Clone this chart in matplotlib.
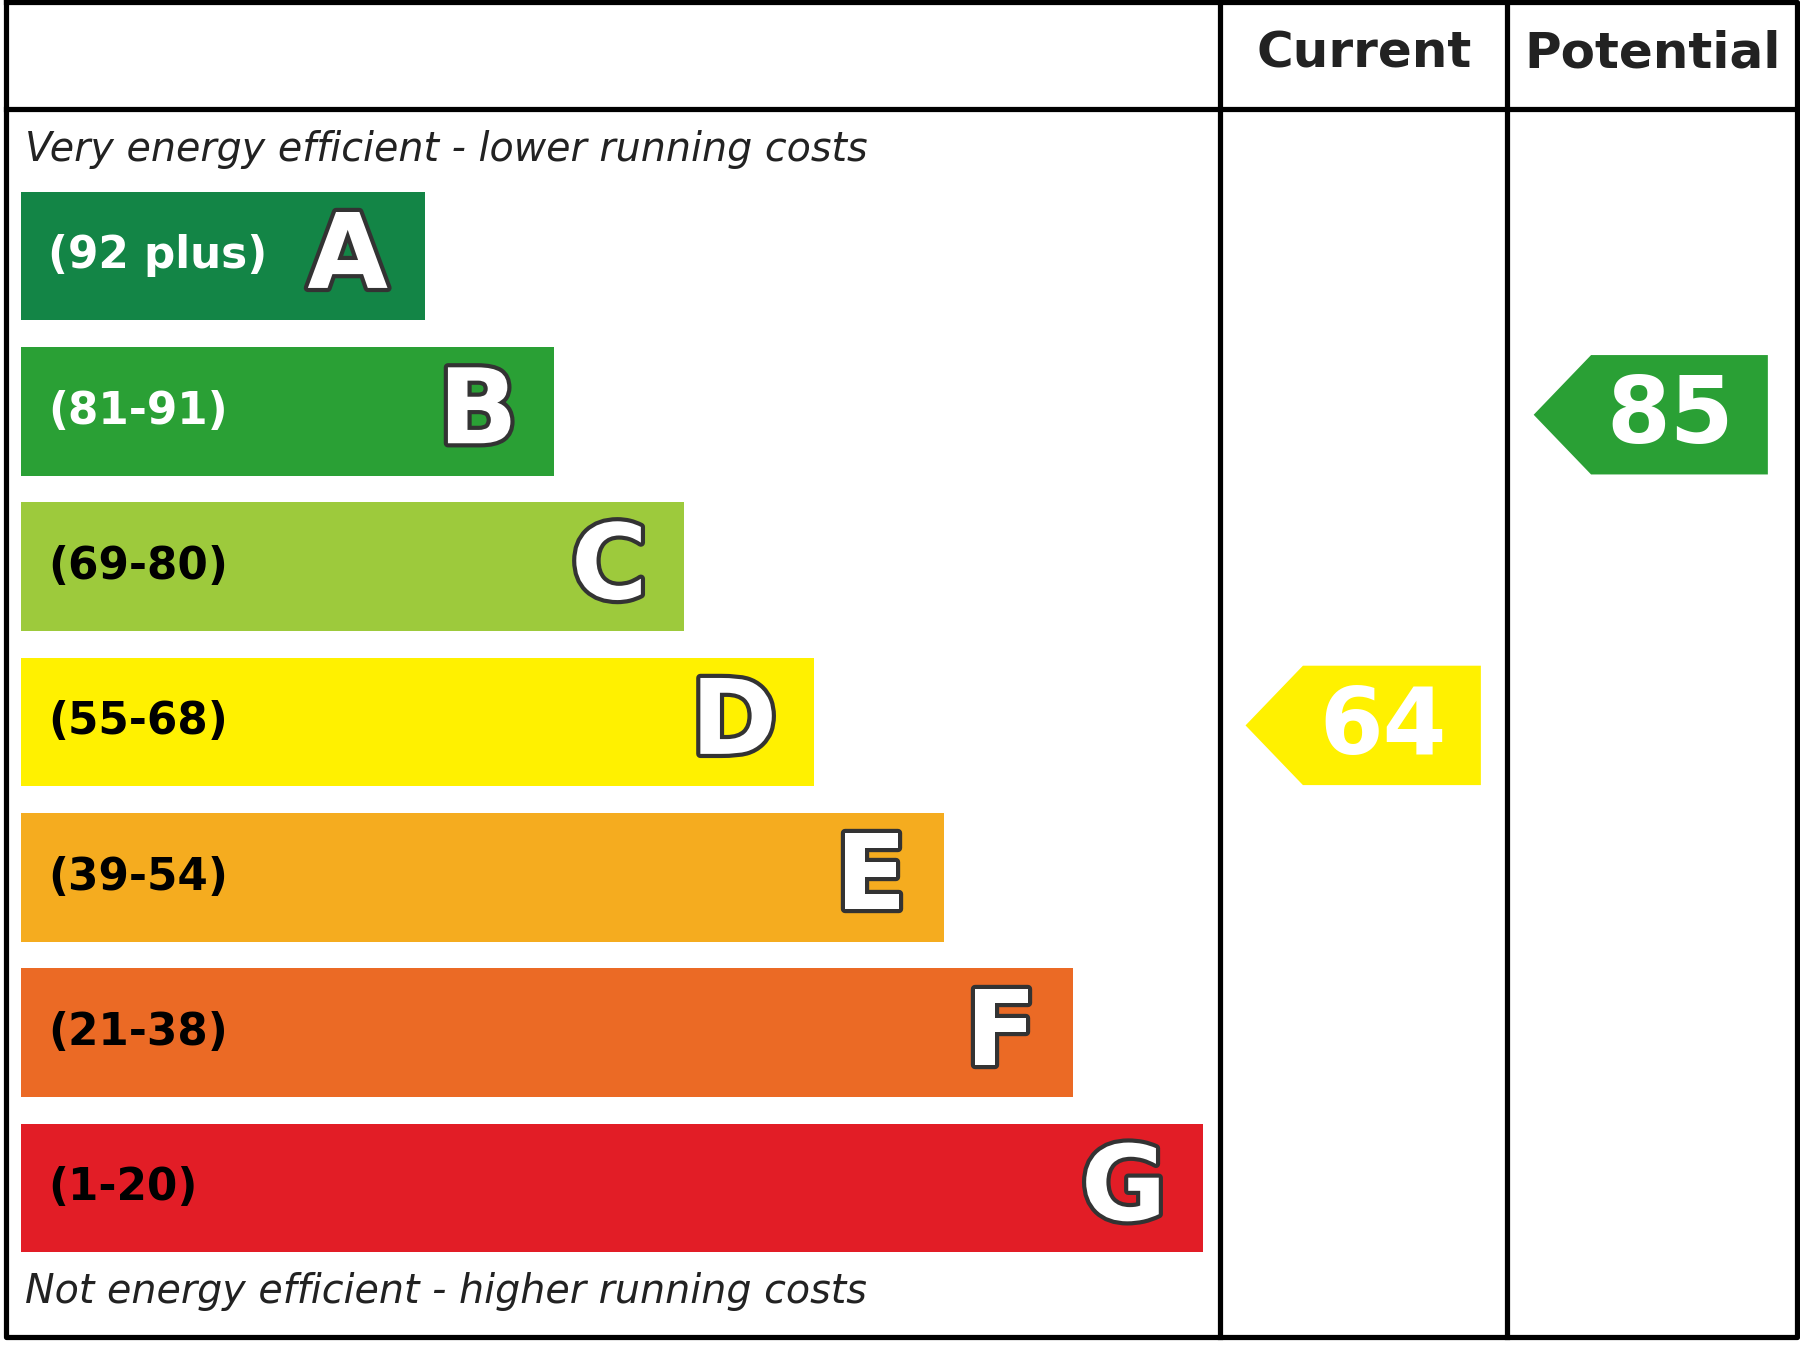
import matplotlib
matplotlib.use("Agg")
import matplotlib.pyplot as plt
import matplotlib.patheffects as pe
from matplotlib.patches import Rectangle, Polygon

bands = ["A", "B", "C", "D", "E", "F", "G"]
ranges = ["(92 plus)", "(81-91)", "(69-80)", "(55-68)", "(39-54)", "(21-38)", "(1-20)"]
lows = [92, 81, 69, 55, 39, 21, 1]
colors = ["#138546", "#2aa035", "#9dca3c", "#fff100", "#f5ac1f", "#eb6a25", "#e21d26"]
range_text = ["white", "white", "black", "black", "black", "black", "black"]
current = 64
potential = 85

W, H = 1568, 1176
fig = plt.figure(figsize=(12, 9), dpi=150)
ax = fig.add_axes([0, 0, 1, 1])
ax.set_xlim(0, W)
ax.set_ylim(H, 0)
ax.axis("off")

# frame
lw = 2.5
ax.plot([5, 1565, 1565, 5, 5], [2, 2, 1165, 1165, 2], color="black", lw=lw)
ax.plot([5, 1565], [95, 95], color="black", lw=lw)
for x in (1063, 1313):
    ax.plot([x, x], [2, 1165], color="black", lw=lw)

ax.text(1188, 47, "Current", ha="center", va="center", fontsize=24, fontweight="bold", color="#222")
ax.text(1440, 47, "Potential", ha="center", va="center", fontsize=24, fontweight="bold", color="#222")
ax.text(22, 130, "Very energy efficient - lower running costs", ha="left", va="center",
        fontsize=19, style="italic", color="#222")
ax.text(22, 1125, "Not energy efficient - higher running costs", ha="left", va="center",
        fontsize=19, style="italic", color="#222")

outline = [pe.withStroke(linewidth=4, foreground="#333")]
top, step, bh = 167, 135.3, 112
x0, dx = 18, 113
for i, b in enumerate(bands):
    y = top + i * step
    right = 370 + i * dx
    ax.add_patch(Rectangle((x0, y), right - x0, bh, color=colors[i], lw=0))
    ax.text(42, y + bh / 2, ranges[i], ha="left", va="center", fontsize=21,
            fontweight="bold", color=range_text[i])
    ax.text(right - 32, y + bh / 2 + 3, b, ha="right", va="center", fontsize=50,
            fontweight="bold", color="white", path_effects=outline)


def band_of(v):
    for i, lo in enumerate(lows):
        if v >= lo:
            return i
    return len(lows) - 1


def arrow(v, xl, xr):
    i = band_of(v)
    yc = top + i * step + bh / 2 + 3
    h = 104
    pts = [(xl, yc), (xl + 50, yc - h / 2), (xr, yc - h / 2), (xr, yc + h / 2), (xl + 50, yc + h / 2)]
    ax.add_patch(Polygon(pts, closed=True, color=colors[i], lw=0))
    ax.text(xr - 85, yc + 2, str(v), ha="center", va="center", fontsize=44,
            fontweight="bold", color="white")


arrow(current, 1085, 1290)
arrow(potential, 1336, 1540)

fig.savefig("out.png", dpi=150)
